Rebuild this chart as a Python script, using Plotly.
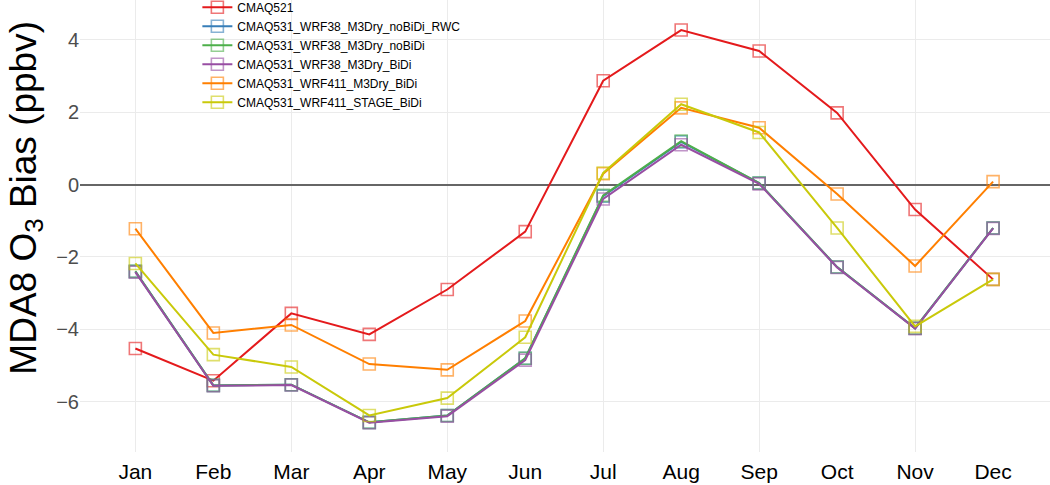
import plotly.graph_objects as go

months = ["Jan", "Feb", "Mar", "Apr", "May", "Jun", "Jul", "Aug", "Sep", "Oct", "Nov", "Dec"]
month_num = list(range(1, 13))

series_names = [
    "CMAQ521",
    "CMAQ531_WRF38_M3Dry_noBiDi_RWC",
    "CMAQ531_WRF38_M3Dry_noBiDi",
    "CMAQ531_WRF38_M3Dry_BiDi",
    "CMAQ531_WRF411_M3Dry_BiDi",
    "CMAQ531_WRF411_STAGE_BiDi",
]

cmaq521 = [-4.53, -5.42, -3.56, -4.14, -2.90, -1.30, 2.87, 4.27, 3.69, 1.98, -0.69, -2.62]
wrf38_nobidi_rwc = [-2.40, -5.55, -5.53, -6.57, -6.38, -4.80, -0.32, 1.18, 0.04, -2.28, -3.97, -1.20]
wrf38_nobidi = [-2.40, -5.55, -5.53, -6.57, -6.38, -4.80, -0.30, 1.20, 0.04, -2.28, -3.97, -1.20]
wrf38_bidi = [-2.42, -5.56, -5.54, -6.58, -6.40, -4.85, -0.40, 1.10, 0.02, -2.29, -3.98, -1.21]
wrf411_m3dry_bidi = [-1.22, -4.10, -3.88, -4.96, -5.12, -3.77, 0.30, 2.12, 1.57, -0.26, -2.25, 0.08]
wrf411_stage_bidi = [-2.18, -4.70, -5.04, -6.38, -5.90, -4.22, 0.32, 2.22, 1.44, -1.20, -3.92, -2.62]

series_values = [cmaq521, wrf38_nobidi_rwc, wrf38_nobidi, wrf38_bidi, wrf411_m3dry_bidi, wrf411_stage_bidi]
colors = ["#e41a1c", "#377eb8", "#4daf4a", "#984ea3", "#ff7f00", "#c9c90a"]

y_ticks = [-6, -4, -2, 0, 2, 4]
y_title = "MDA8 O<sub>3</sub> Bias (ppbv)"


def rgba(hexc, a):
    h = hexc.lstrip("#")
    r, g, b = int(h[0:2], 16), int(h[2:4], 16), int(h[4:6], 16)
    return f"rgba({r},{g},{b},{a})"


fig = go.Figure()
for name, vals, col in zip(series_names, series_values, colors):
    fig.add_trace(go.Scatter(
        x=month_num, y=vals, name=name, mode="lines+markers",
        line=dict(color=col, width=2),
        marker=dict(symbol="square-open", size=12,
                    color=rgba(col, 0.6), line=dict(width=1.6, color=rgba(col, 0.6))),
    ))

fig.add_annotation(
    text=y_title, xref="paper", yref="paper", x=-0.056, y=0.562,
    xanchor="center", yanchor="middle", textangle=-90, showarrow=False,
    font=dict(size=37, color="black"),
)

fig.update_layout(
    width=1050, height=485,
    margin=dict(l=80, r=0, t=0, b=33, autoexpand=False),
    plot_bgcolor="white", paper_bgcolor="white",
    font=dict(family="Liberation Sans, Arial, sans-serif", color="black"),
    showlegend=True,
    legend=dict(x=0.121, y=1.016, xanchor="left", yanchor="top",
                bgcolor="rgba(0,0,0,0)", font=dict(size=12, color="black"),
                tracegroupgap=0, itemwidth=30),
    xaxis=dict(
        range=[0.29, 12.73], tickmode="array", tickvals=month_num, ticktext=months,
        showgrid=False, zeroline=False, showline=False, ticks="",
        tickfont=dict(size=21, color="black"), ticklabelstandoff=5,
        minor=dict(tickmode="array", tickvals=[1, 3, 5, 7, 9, 11],
                   showgrid=True, gridcolor="#ebebeb", gridwidth=1.3, ticks=""),
    ),
    yaxis=dict(
        range=[-7.39, 5.1], tickmode="array", tickvals=y_ticks,
        showgrid=True, gridcolor="#ebebeb", gridwidth=1.3,
        zeroline=True, zerolinecolor="#666666", zerolinewidth=1.5,
        showline=False, ticks="",
        tickfont=dict(size=20, color="#4d4d4d"),
    ),
)

fig.write_html("out.html", config={"displayModeBar": False},
               post_script="document.body.style.margin='0px';")
